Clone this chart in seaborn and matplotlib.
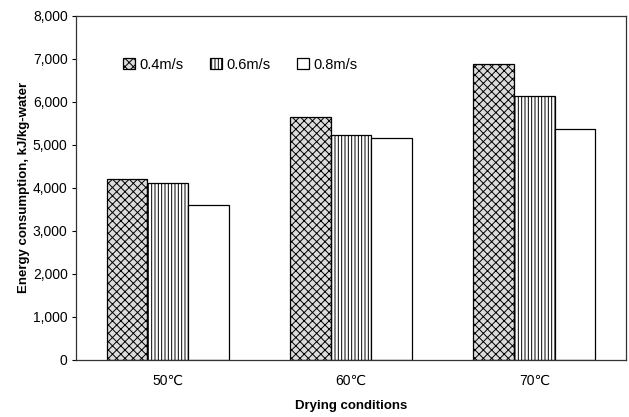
import pandas as pd
import numpy as np
import seaborn as sns
import matplotlib.pyplot as plt

# values
conditions = ['50℃', '60℃', '70℃']
speeds = ['0.4m/s', '0.6m/s', '0.8m/s']
e_04 = [4200, 5650, 6880]
e_06 = [4110, 5230, 6120]
e_08 = [3590, 5150, 5360]
y_ticks = [0, 1000, 2000, 3000, 4000, 5000, 6000, 7000, 8000]

df = pd.DataFrame({
    'condition': conditions * 3,
    'speed': [s for s in speeds for _ in conditions],
    'energy': e_04 + e_06 + e_08,
})

sns.set_style("white")
plt.rcParams['font.family'] = ['Liberation Sans', 'DejaVu Sans']
plt.rcParams['hatch.linewidth'] = 0.7
plt.rcParams['text.color'] = 'black'
plt.rcParams['xtick.color'] = 'black'
plt.rcParams['ytick.color'] = 'black'
plt.rcParams['axes.labelcolor'] = 'black'

fig = plt.figure(figsize=(6.29, 4.17), dpi=100)
ax = fig.add_axes([0.1208, 0.1367, 0.8744, 0.8261])

sns.barplot(data=df, x='condition', y='energy', hue='speed', order=conditions,
            hue_order=speeds, palette=['#dcdcdc', 'white', 'white'],
            width=0.667, gap=0, edgecolor='black', linewidth=0.9,
            legend=False, ax=ax)

hatches = ['xxxx', '|||||', '']
hatch_cols = ['#8a8a8a', '#222222', 'black']
for cont, h, hc in zip(ax.containers, hatches, hatch_cols):
    for p in cont.patches:
        p.set_hatch(h)
        if hasattr(p, 'set_hatchcolor'):
            p.set_hatchcolor(hc)

ax.set_ylim(0, 8000)
ax.set_xlim(-0.5, 2.5)
ax.set_yticks(y_ticks)
ax.set_yticklabels([f'{v:,}' for v in y_ticks], fontsize=10)
ax.tick_params(axis='x', length=0, labelsize=10, pad=10)
ax.set_xticks([0.5, 1.5], minor=True)
ax.tick_params(axis='x', which='minor', direction='in', length=4, width=0.8)
ax.tick_params(axis='y', direction='out', length=3, width=0.8, left=True, pad=3)

for s in ax.spines.values():
    s.set_visible(True)
    s.set_color('#333333')
    s.set_linewidth(0.9)

ax.set_ylabel('Energy consumption, kJ/kg-water', fontsize=9.5, fontweight='bold', labelpad=2)
ax.set_xlabel('Drying conditions', fontsize=9.5, fontweight='bold', labelpad=9)

ax.legend(ax.containers, speeds, ncol=3, frameon=False, loc='upper left',
          bbox_to_anchor=(0.062, 0.915), handlelength=0.8, handleheight=0.8,
          handletextpad=0.3, columnspacing=1.85, fontsize=10.5)

fig.savefig('out.png', dpi=100)
